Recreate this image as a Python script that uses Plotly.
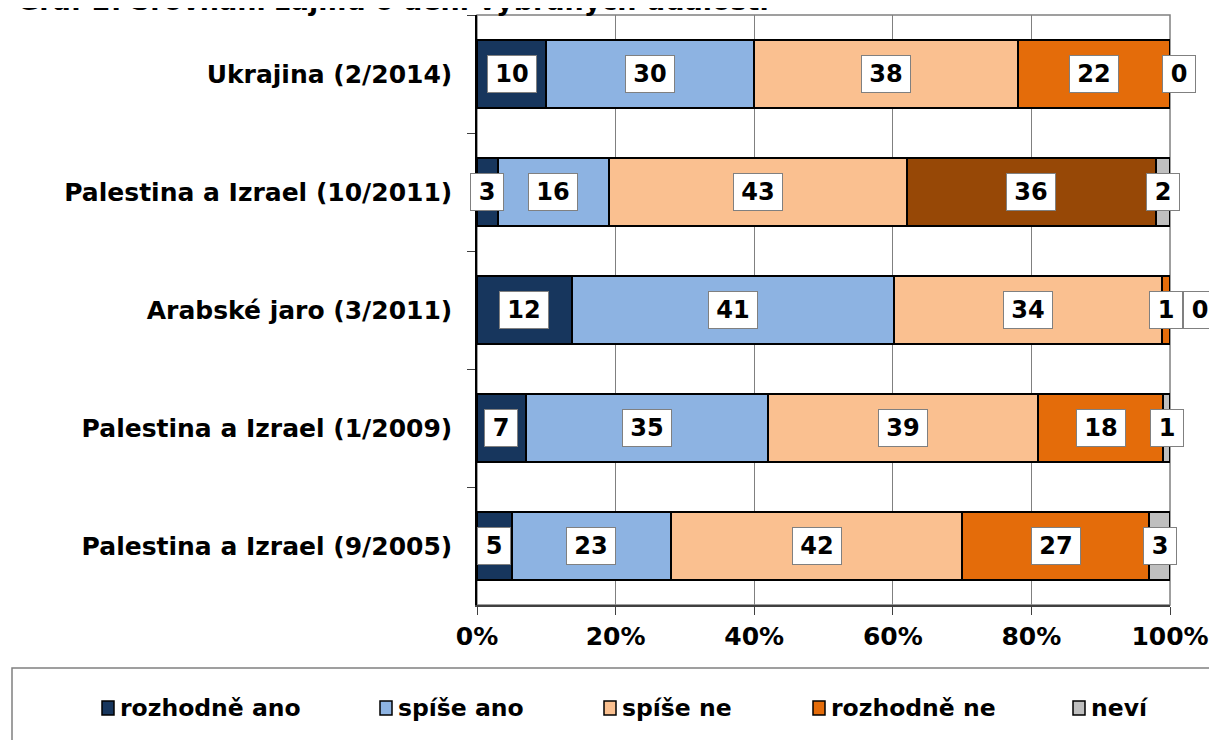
import plotly.graph_objects as go

# ---- data ----
categories = [
    "Ukrajina (2/2014)",
    "Palestina a Izrael (10/2011)",
    "Arabské jaro (3/2011)",
    "Palestina a Izrael (1/2009)",
    "Palestina a Izrael (9/2005)",
]
series_names = ["rozhodně ano", "spíše ano", "spíše ne", "rozhodně ne", "neví"]
rozhodne_ano = [10, 3, 12, 7, 5]
spise_ano = [30, 16, 41, 35, 23]
spise_ne = [38, 43, 34, 39, 42]
rozhodne_ne = [22, 36, 1, 18, 27]
nevi = [0, 2, 0, 1, 3]
x_tick_values = [0, 20, 40, 60, 80, 100]
x_tick_labels = ["0%", "20%", "40%", "60%", "80%", "100%"]
title_text = "Graf 2: Srovnání zájmu o dění vybraných událostí"

series_values = [rozhodne_ano, spise_ano, spise_ne, rozhodne_ne, nevi]
series_colors = ["#17365D", "#8DB3E2", "#FAC090", "#E46C0A", "#BFBFBF"]
highlight_color = "#974806"  # special colour of one point (Palestina 10/2011, rozhodně ne)

FONT = "DejaVu Sans"
OFF = 8  # page body margin
W, H = 1217 - OFF, 740 - OFF
L = 477 - OFF
T = 15 - OFF
R = W - (1170 - OFF)
B = H - (605 - OFF)
PW, PH = W - L - R, H - T - B


def px_x(px):
    return (px - OFF - L) / PW


def px_y(py):
    return (H - B - (py - OFF)) / PH


fig = go.Figure()
for j, (name, vals, col) in enumerate(zip(series_names, series_values, series_colors)):
    colors = [col] * len(vals)
    if j == 3:
        colors[1] = highlight_color
    fig.add_trace(go.Bar(
        y=categories, x=vals, name=name, orientation="h",
        marker=dict(color=colors, line=dict(color="#000000", width=2)),
        showlegend=False, hoverinfo="x+y+name",
    ))

# data labels (boxed), positioned at the middle of each normalised segment
annotations = []
for i, cat in enumerate(categories):
    total = sum(s[i] for s in series_values)
    cum = 0.0
    prev_pct = 100.0
    for j, s in enumerate(series_values):
        v = s[i]
        pct = v / total * 100
        xshift = 0
        if v == 0:
            xc = cum
            xshift = 9 if prev_pct >= 3 else 30
        else:
            xc = cum + pct / 2
        cum += pct
        prev_pct = pct
        annotations.append(dict(
            x=xc, y=cat, xref="x", yref="y", text=f"<b>{v}</b>", showarrow=False,
            xshift=xshift,
            font=dict(family=FONT, size=24, color="#000000"),
            bgcolor="#FFFFFF", bordercolor="#808080", borderwidth=1, borderpad=3,
            width=26 if len(str(v)) == 1 else 42, height=30, align="center",
        ))

# title (cut off at the top of the image, as in the source)
annotations.append(dict(
    x=px_x(15), y=px_y(18), xref="paper", yref="paper", xanchor="left", yanchor="bottom",
    text=f"<b>{title_text}</b>", showarrow=False,
    font=dict(family=FONT, size=27, color="#000000"),
))

# custom legend (Excel-style, boxed, under the chart)
legend_x = [102, 380, 604, 813, 1073]
shapes = [
    dict(type="rect", xref="paper", yref="paper", x0=0, x1=1, y0=0, y1=1,
         line=dict(color="#808080", width=1.5), layer="below"),
    dict(type="rect", xref="paper", yref="paper", x0=px_x(12), x1=px_x(1240),
         y0=px_y(668), y1=px_y(760), line=dict(color="#808080", width=1.5)),
]
for name, col, lx in zip(series_names, series_colors, legend_x):
    shapes.append(dict(type="rect", xref="paper", yref="paper",
                       x0=px_x(lx), x1=px_x(lx + 12), y0=px_y(715), y1=px_y(701),
                       fillcolor=col, line=dict(color="#000000", width=1.5)))
    annotations.append(dict(
        x=px_x(lx + 16), y=px_y(708), xref="paper", yref="paper",
        xanchor="left", yanchor="middle", text=f"<b>{name}</b>", showarrow=False,
        font=dict(family=FONT, size=23.5, color="#000000"),
    ))

fig.update_layout(
    width=W, height=H,
    margin=dict(l=L, r=R, t=T, b=B, pad=0),
    paper_bgcolor="#FFFFFF", plot_bgcolor="#FFFFFF",
    barmode="stack", barnorm="percent", bargap=0.424,
    font=dict(family=FONT, size=22, color="#000000"),
    annotations=annotations, shapes=shapes,
    showlegend=False,
    xaxis=dict(
        range=[0, 100], tickmode="array", tickvals=x_tick_values, ticktext=x_tick_labels,
        showgrid=True, gridcolor="#808080", gridwidth=1,
        showline=True, linecolor="#404040", linewidth=1.5,
        ticks="outside", ticklen=8, tickcolor="#404040", tickwidth=1,
        tickfont=dict(family=FONT, size=25, color="#000000", weight="bold"),
        zeroline=False, fixedrange=True,
    ),
    yaxis=dict(
        categoryorder="array", categoryarray=categories, autorange="reversed",
        showline=True, linecolor="#000000", linewidth=1.5,
        ticks="outside", ticklen=8, tickcolor="#404040", tickwidth=1,
        tickson="boundaries", ticklabelstandoff=18,
        tickfont=dict(family=FONT, size=25, color="#000000", weight="bold"),
        showgrid=False, fixedrange=True,
    ),
)

fig.write_html("out.html")
